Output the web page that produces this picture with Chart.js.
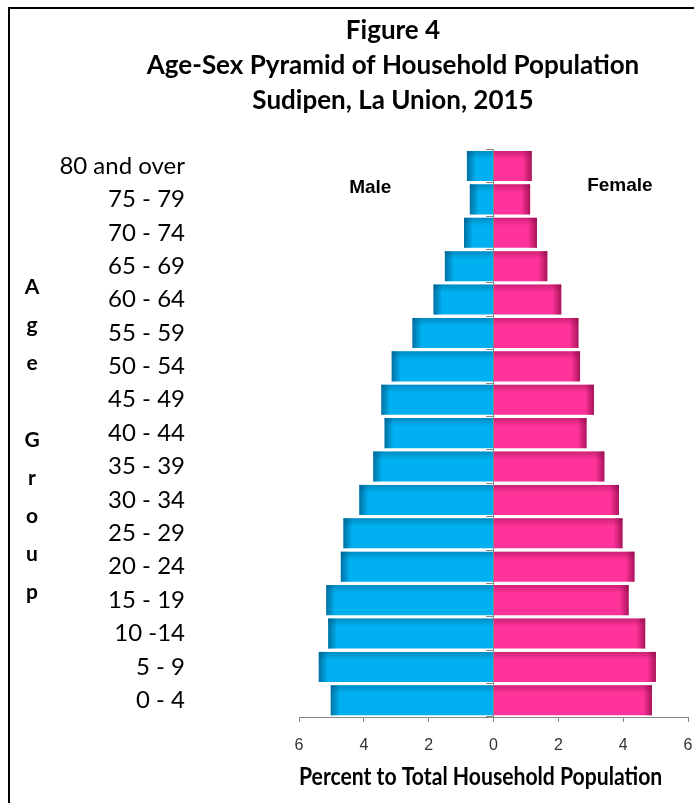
<!DOCTYPE html>
<html lang="en">
<head>
    <meta charset="UTF-8">
    <title>Age-Sex Pyramid</title>
    <style>
        body {
            margin: 0;
            padding: 0;
            background-color: #fff;
            overflow: hidden;
            width: 694px;
            height: 803px;
        }

        .frame {
            position: absolute;
            left: 8px;
            top: 7px;
            width: 766px;
            height: 800px;
            border-left: 2px solid #000;
            border-top: 2px solid #000;
        }

        #pyramidChart {
            position: absolute;
            left: 0;
            top: 0;
        }
    </style>
</head>
<body>
<div class="frame">
    <canvas id="pyramidChart" width="766" height="794"></canvas>
</div>
<script src="https://cdn.jsdelivr.net/npm/chart.js"></script>
<script>
    const ageGroups = ['80 and over', '75 - 79', '70 - 74', '65 - 69', '60 - 64', '55 - 59', '50 - 54', '45 - 49',
        '40 - 44', '35 - 39', '30 - 34', '25 - 29', '20 - 24', '15 - 19', '10 -14', '5 - 9', '0 - 4'];
    const malePercent = [0.82, 0.73, 0.91, 1.50, 1.85, 2.50, 3.14, 3.46, 3.36, 3.71, 4.14, 4.63, 4.71, 5.16, 5.10, 5.39, 5.02];
    const femalePercent = [1.18, 1.13, 1.34, 1.66, 2.09, 2.62, 2.67, 3.10, 2.87, 3.42, 3.87, 3.98, 4.35, 4.17, 4.68, 5.01, 4.89];
    const xTicks = [-6, -4, -2, 0, 2, 4, 6];
    const titleLines = ['Figure 4', 'Age-Sex Pyramid of Household Population', 'Sudipen, La Union, 2015'];
    const yTitleLetters = ['A', 'g', 'e', '', 'G', 'r', 'o', 'u', 'p'];

    // darker edges on the bars, like the bevel in the original
    const barShade = {
        id: 'barShade',
        afterDatasetsDraw(chart) {
            const ctx = chart.ctx;
            chart.data.datasets.forEach((ds, i) => {
                const meta = chart.getDatasetMeta(i);
                const dark = i === 0 ? 'rgba(0,70,110,' : 'rgba(110,0,50,';
                meta.data.forEach(bar => {
                    const top = bar.y - bar.height / 2;
                    const left = Math.min(bar.x, bar.base);
                    const w = Math.abs(bar.x - bar.base);
                    ctx.save();
                    let g = ctx.createLinearGradient(0, top, 0, top + 8);
                    g.addColorStop(0, dark + '0.35)');
                    g.addColorStop(1, dark + '0)');
                    ctx.fillStyle = g;
                    ctx.fillRect(left, top, w, 8);
                    const end = bar.x;
                    const dir = bar.x < bar.base ? 1 : -1;
                    g = ctx.createLinearGradient(end, 0, end + dir * 9, 0);
                    g.addColorStop(0, dark + '0.6)');
                    g.addColorStop(1, dark + '0)');
                    ctx.fillStyle = g;
                    ctx.fillRect(dir > 0 ? end : end - 9, top, 9, bar.height);
                    ctx.restore();
                });
            });
        }
    };

    // Male / Female labels and the stacked "Age Group" axis title
    const extraText = {
        id: 'extraText',
        afterDraw(chart) {
            const ctx = chart.ctx;
            const xs = chart.scales.x;
            const area = chart.chartArea;
            ctx.save();
            ctx.fillStyle = '#000';
            ctx.textAlign = 'center';
            ctx.textBaseline = 'middle';
            ctx.font = 'bold 19px "Liberation Sans", Arial, sans-serif';
            ctx.fillText(chart.data.datasets[0].label, xs.getPixelForValue(-3.8), area.top + 38);
            ctx.fillText(chart.data.datasets[1].label, xs.getPixelForValue(3.9), area.top + 36);
            ctx.font = 'bold 21px Lato, "Open Sans", sans-serif';
            yTitleLetters.forEach((ch, i) => {
                ctx.fillText(ch, 22, 278 + i * 38.2);
            });
            ctx.restore();
        }
    };

    new Chart(document.getElementById('pyramidChart'), {
        type: 'bar',
        data: {
            labels: ageGroups,
            datasets: [{
                label: 'Male',
                data: malePercent.map(v => -v),
                backgroundColor: '#00B0F0',
                barPercentage: 0.9,
                categoryPercentage: 1
            }, {
                label: 'Female',
                data: femalePercent,
                backgroundColor: '#FF3399',
                barPercentage: 0.9,
                categoryPercentage: 1
            }]
        },
        options: {
            indexAxis: 'y',
            responsive: false,
            maintainAspectRatio: false,
            animation: false,
            layout: {
                padding: 0
            },
            plugins: {
                legend: {display: false},
                tooltip: {enabled: false},
                title: {
                    display: true,
                    text: titleLines,
                    color: '#000',
                    font: {family: 'Lato, "Open Sans", sans-serif', size: 26, weight: 'bold', lineHeight: 1.35},
                    padding: {top: 4, bottom: 31}
                }
            },
            scales: {
                x: {
                    stacked: true,
                    min: -6,
                    max: 6,
                    afterBuildTicks: scale => {
                        scale.ticks = xTicks.map(v => ({value: v}));
                    },
                    afterFit: scale => {
                        scale.height = 86;
                    },
                    ticks: {
                        callback: v => Math.abs(v),
                        color: '#333',
                        font: {family: '"Liberation Sans", Arial, sans-serif', size: 16},
                        padding: 14
                    },
                    grid: {
                        color: ctx => ctx.tick && ctx.tick.value === 0 ? '#868686' : 'rgba(0,0,0,0)',
                        tickColor: '#868686',
                        tickLength: 5
                    },
                    border: {display: true, color: '#868686', width: 1},
                    title: {
                        display: true,
                        text: 'Percent to Total Household Population     ',
                        color: '#000',
                        font: {family: 'Lato, "Open Sans", sans-serif', size: 24.5, weight: 'bold'},
                        padding: {top: 11, bottom: 11}
                    }
                },
                y: {
                    stacked: true,
                    weight: 2,
                    afterFit: scale => {
                        scale.width = 179;
                    },
                    ticks: {
                        color: '#000',
                        font: {family: 'Lato, "Open Sans", sans-serif', size: 24},
                        padding: 4
                    },
                    grid: {display: false, drawTicks: false},
                    border: {display: false}
                },
                // empty gap between the age labels and the bars
                ygap: {
                    type: 'category',
                    labels: ageGroups,
                    position: 'left',
                    weight: 1,
                    afterFit: scale => {
                        scale.width = 110;
                    },
                    ticks: {display: false},
                    grid: {display: false, drawTicks: false},
                    border: {display: false}
                },
                yr: {
                    type: 'category',
                    labels: ageGroups,
                    position: 'right',
                    afterFit: scale => {
                        scale.width = 88;
                    },
                    ticks: {display: false},
                    grid: {display: false, drawTicks: false},
                    border: {display: false}
                },
                yc: {
                    type: 'category',
                    labels: ageGroups,
                    position: {x: 0},
                    offset: true,
                    ticks: {display: false},
                    grid: {
                        offset: true,
                        drawOnChartArea: false,
                        color: '#868686',
                        tickLength: 8
                    },
                    border: {display: false}
                }
            }
        },
        plugins: [barShade, extraText]
    });
</script>
</body>
</html>
